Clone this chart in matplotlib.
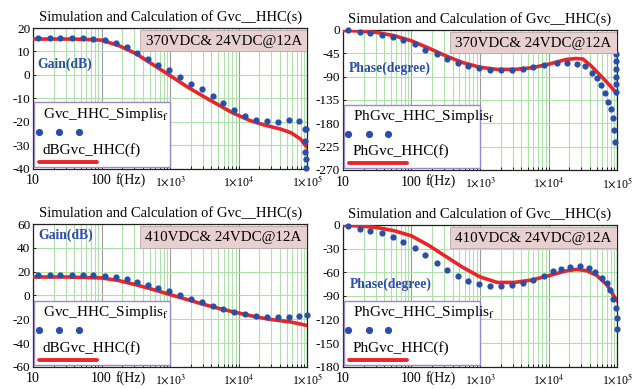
import matplotlib
matplotlib.use("Agg")
import matplotlib.pyplot as plt
from matplotlib.patches import Rectangle
from matplotlib.ticker import LogLocator, NullFormatter
import matplotlib.transforms as mtransforms

plt.rcParams['font.family'] = ['Liberation Serif', 'DejaVu Serif']
plt.rcParams['mathtext.fontset'] = 'stix'

# ---- simulation points (blue dots) ----
FREQ = [12, 17.5, 25, 37, 53, 76, 111, 160, 232, 333, 471, 675, 966, 1400,
        2000, 2880, 4170, 5970, 8650, 12500, 18000, 26000, 37000, 54000, 75500]

gain370_f = FREQ + [91000, 91000, 91000, 97000, 97000, 97000]
gain370_db = [15.6, 15.6, 15.6, 15.6, 15.6, 15.3, 14.8, 13.6, 11.8, 9.4, 7.0, 4.1,
              2.0, -0.9, -3.7, -6.2, -9.1, -12.0, -15.0, -17.6, -19.2, -19.8,
              -19.9, -19.4, -19.6, -23, -28, -33, -23, -36, -39.5]

phase370_f = FREQ[:19] + [13200, 18600, 25700, 33900, 42700, 50000, 58900, 66000,
                          74000, 81000, 87000, 89000, 93000] + [97500] * 6
phase370_deg = [-1, -3, -6, -9, -13, -19, -28, -38, -47, -56, -64, -70, -74, -77,
                -78, -77, -75, -72, -68,
                -64, -63.5, -65, -70, -83, -93, -107, -122, -138, -153, -170, -193, -216,
                -47, -60, -75, -90, -105, -120]

gain410_f = FREQ + [98000]
gain410_db = [17.5, 17.5, 17.5, 17.5, 17.5, 17.0, 16.6, 15.5, 14.1, 11.3, 9.0, 6.3,
              3.5, 0.7, -3.0, -5.5, -8.5, -11.3, -13.5, -15.5, -17.0, -18.0, -18.3,
              -18.4, -17.5, -16.1]

phase410_f = FREQ[:18] + [8500, 11700, 15100, 20400, 28200, 38900, 47900, 60300,
                          70800, 79400, 87100, 95500, 100000, 100000]
phase410_deg = [-2, -4.7, -7.7, -10.7, -15.4, -21.9, -29, -38.6, -48.4, -57, -64.7,
                -71, -75, -77, -77.6, -76, -74, -70,
                -64.3, -59.1, -55.7, -53.5, -51.8, -54.8, -59.9, -66.8, -74, -82.6,
                -94.6, -106, -118, -132]

# ---- calculation (red lines) ----
calc_gain370_f = [10, 31.6, 56, 100, 178, 316, 562, 1000, 1780, 3160, 5620, 7940,
                  10000, 14800, 23400, 40000, 57500, 79400, 100000]
calc_gain370_db = [15.3, 15.3, 15.2, 14.8, 12.5, 9.1, 4.4, -0.3, -5.1, -9.4, -13.5,
                   -16.0, -17.3, -19.5, -21.3, -23.0, -24.6, -27.3, -31]

calc_phase370_f = [10, 17.8, 31.6, 56, 100, 178, 316, 562, 1000, 1780, 3160, 5620,
                   10000, 17800, 25100, 31600, 40700, 56200, 79400, 100000]
calc_phase370_deg = [-1, -2, -5, -11, -21, -35, -50, -63, -72, -76, -76, -73, -66,
                     -57, -55, -56, -68, -87, -108, -124]

calc_gain410_f = [10, 31.6, 100, 178, 316, 562, 1000, 1780, 3160, 5620, 10000,
                  17800, 31600, 56200, 100000]
calc_gain410_db = [15.5, 15.5, 14.7, 12.5, 9.0, 5.0, 0.7, -3.5, -7.7, -11.5, -14.8,
                   -18.0, -20.5, -22.2, -25.3]

calc_phase410_f = [10, 17.8, 31.6, 56, 100, 178, 316, 562, 1000, 1780, 3160, 5620,
                   10000, 17800, 25100, 35500, 50100, 70800, 100000]
calc_phase410_deg = [-0.5, -1.5, -3.5, -7.5, -14, -26, -40, -54, -66, -73, -73, -70,
                     -64.5, -58.5, -56.5, -58, -64, -76, -97]

TITLE = "Simulation and Calculation of Gvc__HHC(s)"
XTICKS = [10, 100, 1e3, 1e4, 1e5]
XLABELS = ['10', '100', r'1$\times$10$^{3}$', r'1$\times$10$^{4}$', r'1$\times$10$^{5}$']

RED = '#e8262a'
BLUE = '#2a4fa8'
GREEN = '#b0e0aa'


def panel(ax, sim_f, sim_v, calc_f, calc_v, yticks, cond, ylab, leg_sim, leg_calc,
          ylab_pos, leg_h):
    ax.set_xscale('log')
    ax.set_xlim(10, 1e5)
    ax.set_ylim(yticks[-1], yticks[0])
    ax.set_yticks(yticks)
    ax.set_yticklabels([str(t) for t in yticks], fontsize=9.5)
    ax.set_xticks(XTICKS)
    ax.set_xticklabels(XLABELS)
    for i, lab in enumerate(ax.get_xticklabels()):
        lab.set_fontsize(10 if i < 2 else 8.5)
    ax.xaxis.set_minor_locator(LogLocator(base=10, subs=range(2, 10)))
    ax.xaxis.set_minor_formatter(NullFormatter())
    ax.tick_params(which='both', direction='in', length=2, width=0.6, pad=2)
    ax.tick_params(axis='x', which='major', pad=4)
    ax.grid(True, which='minor', axis='x', color=GREEN, lw=0.8)
    ax.grid(True, which='major', axis='x', color='#9a9a9a', lw=0.8)
    ax.grid(True, which='major', axis='y', color=GREEN, lw=0.8)
    ax.set_axisbelow(True)
    for s in ax.spines.values():
        s.set_linewidth(0.9)
        s.set_color('#202020')

    ax.plot(calc_f, calc_v, color=RED, lw=2.6, zorder=3, solid_capstyle='round')
    ax.plot(sim_f, sim_v, 'o', color=BLUE, ms=4.5, mec='none', zorder=4, clip_on=False)

    ax.set_title(TITLE, fontsize=10.5, pad=5)
    trans = mtransforms.blended_transform_factory(ax.transData, ax.transAxes)
    ax.text(265, -0.03, 'f(Hz)', transform=trans, fontsize=10, va='top', ha='center')

    # condition box
    ax.add_patch(Rectangle((0.39, 0.835), 0.61, 0.15, transform=ax.transAxes,
                           facecolor='#e8d0d0', edgecolor='#b8a8a8', lw=0.6, zorder=5))
    ax.text(0.695, 0.905, cond, transform=ax.transAxes, fontsize=10.8,
            ha='center', va='center', zorder=6)

    ax.text(ylab_pos[0], ylab_pos[1], ylab, transform=ax.transAxes, fontsize=9.8,
            fontweight='bold', color=BLUE, ha='left', va='center', zorder=6)

    # legend box
    ax.add_patch(Rectangle((0.004, 0.012), 0.496, leg_h, transform=ax.transAxes,
                           facecolor='white', edgecolor='#9a88c8', lw=1.0, zorder=7))
    ax.text(0.035, 0.012 + leg_h * 0.82, leg_sim + r'$_{\mathrm{f}}$', transform=ax.transAxes,
            fontsize=11, ha='left', va='center', zorder=8)
    ax.plot([0.02, 0.095, 0.166], [0.012 + leg_h * 0.54] * 3, 'o', color=BLUE, ms=5.2,
            mec='none', transform=ax.transAxes, zorder=8, clip_on=False)
    ax.text(0.035, 0.012 + leg_h * 0.27, leg_calc, transform=ax.transAxes,
            fontsize=11, ha='left', va='center', zorder=8)
    ax.plot([0.022, 0.235], [0.012 + leg_h * 0.08] * 2, color=RED, lw=2.8,
            solid_capstyle='round', transform=ax.transAxes, zorder=8)


fig = plt.figure(figsize=(6.35, 3.89), dpi=100)
ax1 = fig.add_axes([0.052, 0.566, 0.432, 0.362])
ax2 = fig.add_axes([0.540, 0.563, 0.432, 0.360])
ax3 = fig.add_axes([0.052, 0.057, 0.432, 0.367])
ax4 = fig.add_axes([0.540, 0.057, 0.432, 0.365])

panel(ax1, gain370_f, gain370_db, calc_gain370_f, calc_gain370_db,
      [20, 10, 0, -10, -20, -30, -40], '370VDC& 24VDC@12A', 'Gain(dB)',
      'Gvc_HHC_Simplis', 'dBGvc_HHC(f)', (0.015, 0.745), 0.46)
panel(ax2, phase370_f, phase370_deg, calc_phase370_f, calc_phase370_deg,
      [0, -45, -90, -135, -180, -225, -270], '370VDC& 24VDC@12A', 'Phase(degree)',
      'PhGvc_HHC_Simplis', 'PhGvc_HHC(f)', (0.02, 0.73), 0.455)
panel(ax3, gain410_f, gain410_db, calc_gain410_f, calc_gain410_db,
      [60, 40, 20, 0, -20, -40, -60], '410VDC& 24VDC@12A', 'Gain(dB)',
      'Gvc_HHC_Simplis', 'dBGvc_HHC(f)', (0.02, 0.92), 0.45)
panel(ax4, phase410_f, phase410_deg, calc_phase410_f, calc_phase410_deg,
      [0, -30, -60, -90, -120, -150, -180], '410VDC& 24VDC@12A', 'Phase(degree)',
      'PhGvc_HHC_Simplis', 'PhGvc_HHC(f)', (0.025, 0.58), 0.455)

fig.savefig('out.png', dpi=100)
